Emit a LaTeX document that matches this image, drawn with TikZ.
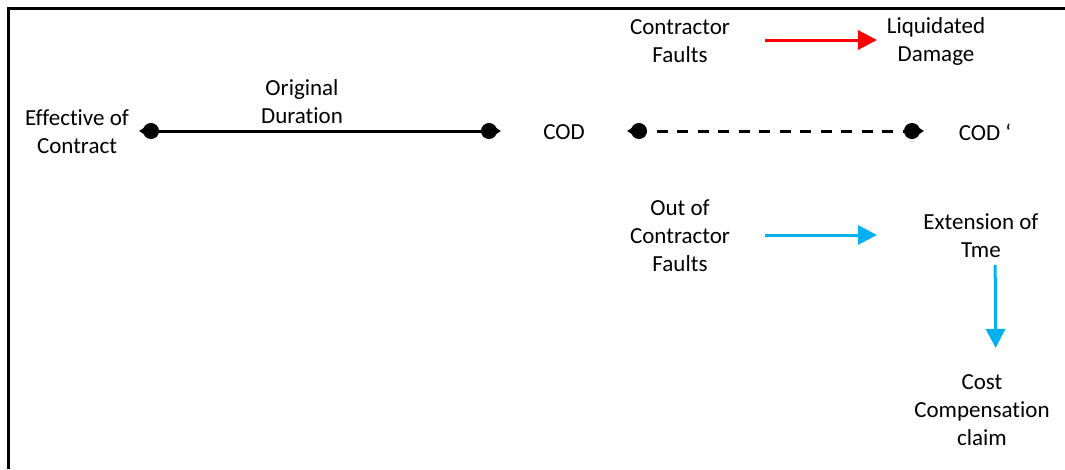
\documentclass[tikz,border=0pt]{standalone}
\usepackage{fontspec}
\setmainfont{Carlito}[Ligatures=NoCommon]
\usetikzlibrary{arrows.meta,calc}
\definecolor{faultred}{RGB}{255,0,0}
\definecolor{eotblue}{RGB}{0,176,240}
\tikzset{
  lbl/.style={align=center, inner sep=0pt, font=\fontsize{23}{28}\selectfont},
  drop/.tip={Circle[length=16pt,sep=-6pt] Triangle[length=10pt,width=12pt]},
  timeline/.style={line width=3pt, {drop}-{drop}},
  flow/.style={line width=3pt, -{Triangle[length=19pt,width=19pt]}},
}
\begin{document}
\begin{tikzpicture}[x=1pt,y=-1pt]
\useasboundingbox (0,0) rectangle (1065,469);
\draw[line width=2.5pt] (1065,8.5) -- (8.5,8.5) -- (8.5,469);
% labels
\node[lbl] (eff) at (77,132) {Effective of\\Contract};
\node[lbl] (orig) at (302,102) {Original\\Duration};
\node[lbl] (cod) at (564,132) {COD};
\node[lbl] (codp) at (985,132) {COD ‘};
\node[lbl] (cf) at (680,41) {Contractor\\Faults};
\node[lbl] (ld) at (936,41) {Liquidated\\Damage};
\node[lbl] (ocf) at (680,236) {Out of\\Contractor\\Faults};
\node[lbl] (eot) at (981,236) {Extension of\\Tme};
\node[lbl] (ccc) at (982,410) {Cost\\Compensation\\claim};
% timeline end points
\coordinate (a1) at (139,131);
\coordinate (a2) at (501,131);
\coordinate (b1) at (627,131);
\coordinate (b2) at (924,131);
\draw[timeline] (a1) -- (a2);
\draw[timeline, dash pattern=on 11pt off 9.5pt] (b1) -- (b2);
% flows
\draw[flow, faultred, shorten <=85pt, shorten >=59pt] ($(cf)+(0,-1)$) -- ($(ld)+(0,-1)$);
\draw[flow, eotblue, shorten <=85pt, shorten >=104pt] ($(ocf)+(0,-1)$) -- ($(eot)+(0,-1)$);
\draw[flow, eotblue, shorten <=29pt, shorten >=62pt] ($(eot)+(14,0)$) -- ($(ccc)+(14,0)$);
\end{tikzpicture}
\end{document}
